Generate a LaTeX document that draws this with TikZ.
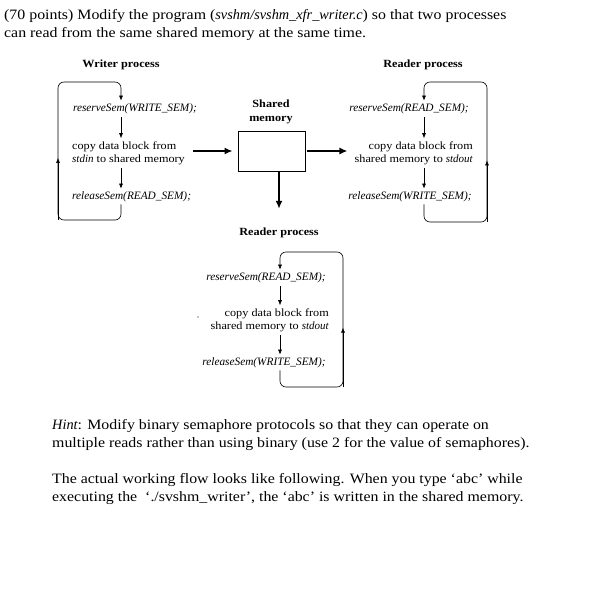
\documentclass[tikz,border=0pt]{standalone}
\usepackage{fontspec}
\setmainfont{Liberation Serif}[FakeStretch=1.11]
\newfontfamily\slimfamily{Liberation Serif}
\newcommand\slimit[1]{{\slimfamily\itshape #1}}
\usetikzlibrary{arrows.meta,calc}

\begin{document}
\begin{tikzpicture}[x=1pt, y=-1pt, >={Latex[length=5pt,width=4pt]},
	every node/.style={inner sep=0pt},
	para/.style={align=left, anchor=north west, font=\fontsize{14.3}{18}\selectfont},
	semtext/.style={font=\fontsize{11.3}{13}\selectfont\slimfamily\itshape, inner ysep=2pt},
	copytext/.style={font=\fontsize{11}{13}\selectfont, inner ysep=2pt},
	proctitle/.style={font=\fontsize{11}{14}\selectfont\bfseries},
	flow/.style={->, line width=0.6pt, shorten <=1pt, shorten >=1pt},
	loopline/.style={->, line width=0.6pt, rounded corners=6pt, shorten >=1pt},
	bigflow/.style={-{Latex[length=8pt,width=7pt]}, line width=1.6pt}]
	\path[fill=white, use as bounding box] (0,0) rectangle (589,589);

	% task text
	\node[para] (task) at (4,9) {(70 points) Modify the program (\slimit{svshm/svshm\_xfr\_writer.c}) so that two processes\\can read from the same shared memory at the same time.};

	% writer process
	\begin{scope}
		\node[proctitle] (wtitle) at (121,65) {Writer process};
		\node[semtext] (wres) at (135,109) {reserveSem(WRITE\_SEM);};
		\node[copytext, anchor=west, align=left] (wcopy) at (72,153) {copy data block from\\\slimit{stdin} to shared memory};
		\node[semtext, anchor=west] (wrel) at (72,197) {releaseSem(READ\_SEM);};
		\coordinate (wcol) at (121,0);
		\coordinate (wbl) at (58,220);
		\coordinate (wtl) at (58,82);
		\draw[flow] (wres.south -| wcol) -- (wcopy.north -| wcol);
		\draw[flow] (wcopy.south -| wcol) -- (wrel.north -| wcol);
		\draw[loopline] (wrel.south -| wcol) |- (wbl) -- (wtl) -| (wres.north -| wcol);
		\draw[->, line width=0.6pt] (wbl) -- ($(wbl)!0.45!(wtl)$);
	\end{scope}

	% reader process, right
	\begin{scope}
		\node[proctitle] (rtitle) at (423,65) {Reader process};
		\node[semtext] (rres) at (409,109) {reserveSem(READ\_SEM);};
		\node[copytext, anchor=east, align=right] (rcopy) at (473,153) {copy data block from\\shared memory to \slimit{stdout}};
		\node[semtext] (rrel) at (410,197) {releaseSem(WRITE\_SEM);};
		\coordinate (rcol) at (424,0);
		\coordinate (rbr) at (487,222);
		\coordinate (rtr) at (487,82);
		\draw[flow] (rres.south -| rcol) -- (rcopy.north -| rcol);
		\draw[flow] (rcopy.south -| rcol) -- (rrel.north -| rcol);
		\draw[loopline] (rrel.south -| rcol) |- (rbr) -- (rtr) -| (rres.north -| rcol);
		\draw[->, line width=0.6pt] (rbr) -- ($(rbr)!0.44!(rtr)$);
	\end{scope}

	% reader process, below
	\begin{scope}
		\node[proctitle] (btitle) at (279,233) {Reader process};
		\node[semtext] (bres) at (266,278) {reserveSem(READ\_SEM);};
		\node[copytext, anchor=east, align=right] (bcopy) at (329,320) {copy data block from\\shared memory to \slimit{stdout}};
		\node[semtext] (brel) at (264,363) {releaseSem(WRITE\_SEM);};
		\coordinate (bcol) at (280,0);
		\coordinate (bbr) at (343,387);
		\coordinate (btr) at (343,252);
		\draw[flow] (bres.south -| bcol) -- (bcopy.north -| bcol);
		\draw[flow] (bcopy.south -| bcol) -- (brel.north -| bcol);
		\draw[loopline] (brel.south -| bcol) |- (bbr) -- (btr) -| (bres.north -| bcol);
		\draw[->, line width=0.6pt] (bbr) -- ($(bbr)!0.44!(btr)$);
		\fill (198,317) circle (0.7pt);
	\end{scope}

	% shared memory
	\node[proctitle, align=center] (shmtitle) at (271,112) {Shared\\memory};
	\node[draw, line width=0.8pt, minimum width=67pt, minimum height=40pt] (shm) at (271.5,151) {};
	\draw[bigflow, shorten <=8pt, shorten >=5pt] (wcopy.east |- shm.west) -- (shm.west);
	\draw[bigflow, shorten <=2pt, shorten >=7pt] (shm.east) -- (rcopy.west |- shm.east);
	\draw[bigflow, shorten >=19pt] (shm.south -| btitle) -- (btitle.north);

	% hint text
	\node[para] (hint) at (52,419) {\slimit{Hint}: Modify binary semaphore protocols so that they can operate on\\multiple reads rather than using binary (use 2 for the value of semaphores).};
	\node[para] (flowtext) at (52,473) {The actual working flow looks like following. When you type ‘abc’ while\\executing the \ ‘./svshm\_writer’, the ‘abc’ is written in the shared memory.};
\end{tikzpicture}
\end{document}
